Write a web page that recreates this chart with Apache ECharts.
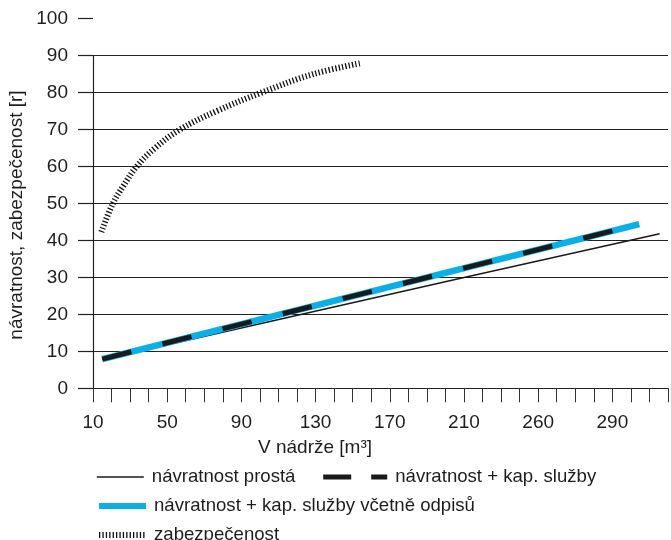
<!DOCTYPE html>
<html>
<head>
<meta charset="utf-8">
<script src="https://cdn.jsdelivr.net/npm/echarts@6/dist/echarts.min.js"></script>
<style>html,body{margin:0;padding:0;background:#fff}#c{width:671px;height:540px}</style>
</head>
<body>
<div id="c"></div>
<script>
// ---- data ----
var xTickPositions = [10, 50, 90, 130, 170, 210, 250, 290];
var xTickLabels = ['10', '50', '90', '130', '170', '210', '260', '290'];
var yTickTop = [100];
var seriesNames = ['návratnost prostá', 'návratnost + kap. služby', 'návratnost + kap. služby včetně odpisů', 'zabezpečenost'];
var prostaData = [[15, 7.8], [210, 30], [315.5, 41.8]];
var kapData = [[15, 7.9], [298, 43.6]];
var odpisyData = [[15, 7.9], [304.5, 44.4]];
var zabezpecenostData = [[14.5, 42.3], [20.7, 50], [26.3, 54.7], [33.5, 60], [43.4, 65], [56.8, 70], [76.6, 75], [100.8, 80], [128.6, 85], [154.6, 88]];
var xAxisTitle = 'V nádrže [m³]';
var yAxisTitle = 'návratnost, zabezpečenost [r]';

var FONT = "'Liberation Sans', Arial, Helvetica, sans-serif";
var FS = 19;
var LFS = 18.6;
var TXT = '#1e1e1e';
var BLUE = '#0aafe8';
var chart = echarts.init(document.getElementById('c'));
var legendBase = {
  orient: 'horizontal', padding: 0, itemHeight: 20, itemGap: 0,
  textStyle: { fontFamily: FONT, fontSize: LFS, color: TXT, lineHeight: 20, padding: [0, 0, 0, 3] },
  itemStyle: { opacity: 0, borderWidth: 0 },
  selectedMode: false
};
function leg(o) { return Object.assign({}, legendBase, o); }
chart.setOption({
  animation: false,
  textStyle: { fontFamily: FONT },
  grid: [
    { left: 93, right: 2, top: 55.7, bottom: 151.7, containLabel: false },
    { left: 93, right: 2, top: 18.7, height: 37, containLabel: false }
  ],
  xAxis: [
    {
      type: 'value', gridIndex: 0, min: 10, max: 320, interval: 10,
      axisLine: { show: true, onZero: false, lineStyle: { color: '#222', width: 1.2 } },
      axisTick: { show: true, length: 14, lineStyle: { color: '#333', width: 1 } },
      axisLabel: {
        margin: 25, fontFamily: FONT, fontSize: FS, color: TXT,
        formatter: function (v) { var i = xTickPositions.indexOf(v); return i >= 0 ? xTickLabels[i] : ''; }
      },
      splitLine: { show: false }
    },
    { type: 'value', gridIndex: 1, min: 10, max: 320, show: false }
  ],
  yAxis: [
    {
      type: 'value', gridIndex: 0, min: 0, max: 90, interval: 10,
      axisLine: { show: true, lineStyle: { color: '#222', width: 1.2 } },
      axisTick: { show: true, length: 15, lineStyle: { color: '#222', width: 1.2 } },
      axisLabel: { margin: 25, fontFamily: FONT, fontSize: FS, color: TXT },
      splitLine: { show: true, lineStyle: { color: '#222', width: 1.2 } }
    },
    {
      type: 'value', gridIndex: 1, min: 90, max: 100, interval: 10,
      axisLine: { show: false },
      axisTick: { show: true, length: 15, customValues: yTickTop, lineStyle: { color: '#222', width: 1.2 } },
      axisLabel: {
        margin: 25, fontFamily: FONT, fontSize: FS, color: TXT, customValues: yTickTop,
        formatter: function (v) { return yTickTop.indexOf(v) >= 0 ? String(v) : ''; }
      },
      splitLine: { show: false }
    }
  ],
  legend: [
    leg({ left: 96, top: 467, itemWidth: 47, data: [{ name: seriesNames[0], lineStyle: { width: 1.6, color: '#1a1a1a' } }] }),
    leg({ left: 320.7, top: 467, itemWidth: 64, data: [{ name: seriesNames[1], lineStyle: { type: [28, 20], width: 5, color: '#1a1a1a', cap: 'butt' } }] }),
    leg({ left: 96, top: 496, itemWidth: 47, data: [{ name: seriesNames[2], lineStyle: { width: 6, color: BLUE, cap: 'butt' } }] }),
    leg({ left: 96, top: 525, itemWidth: 47, data: [{ name: seriesNames[3], lineStyle: { width: 6, color: '#111', type: [1.3, 2.1], cap: 'butt' } }] })
  ],
  series: [
    {
      name: seriesNames[0], type: 'line', data: prostaData, symbol: 'none', z: 3,
      lineStyle: { color: '#1a1a1a', width: 1.6 }, itemStyle: { color: '#1a1a1a' }
    },
    {
      name: seriesNames[2], type: 'line', data: odpisyData, symbol: 'none', z: 4,
      lineStyle: { color: BLUE, width: 6.5, cap: 'butt' }, itemStyle: { color: BLUE }
    },
    {
      name: seriesNames[1], type: 'line', data: kapData, symbol: 'none', z: 5,
      lineStyle: { color: '#1a1a1a', width: 5, type: [30, 32], cap: 'butt' }, itemStyle: { color: '#1a1a1a' }
    },
    {
      name: seriesNames[3], type: 'line', data: zabezpecenostData, symbol: 'none', smooth: 0.4, z: 3,
      lineStyle: { color: '#111', width: 6, type: [1.3, 2.1], cap: 'butt' }, itemStyle: { color: '#111' }
    }
  ],
  graphic: [
    { type: 'text', x: 315, y: 448, style: { text: xAxisTitle, fontFamily: FONT, fontSize: FS, fill: TXT, textAlign: 'center', textVerticalAlign: 'middle' } },
    { type: 'text', x: 17, y: 215, rotation: Math.PI / 2, style: { text: yAxisTitle, fontFamily: FONT, fontSize: FS, fill: TXT, textAlign: 'center', textVerticalAlign: 'middle' } }
  ]
});
</script>
</body>
</html>
